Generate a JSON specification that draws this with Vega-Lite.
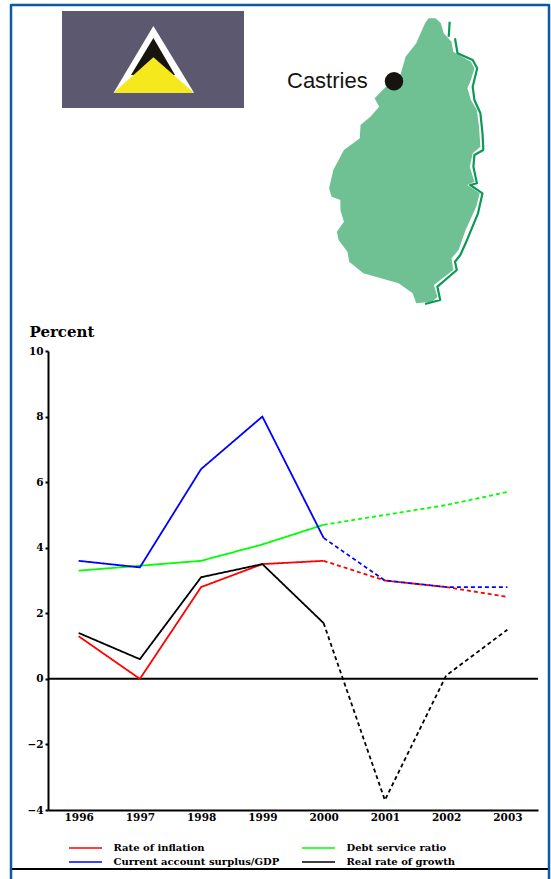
{
"$schema":"https://vega.github.io/schema/vega-lite/v6.json",
"width":490,"height":459,
"autosize":{"type":"none"},
"padding":{"left":48,"top":351,"right":13,"bottom":69},
"background":"white",
"config":{"view":{"stroke":null},"font":"DejaVu Serif"},
"datasets":{
"series":[
{"year":"1996","value":1.3,"series":"Rate of inflation","phase":"actual"},
{"year":"1997","value":0.0,"series":"Rate of inflation","phase":"actual"},
{"year":"1998","value":2.8,"series":"Rate of inflation","phase":"actual"},
{"year":"1999","value":3.5,"series":"Rate of inflation","phase":"actual"},
{"year":"2000","value":3.6,"series":"Rate of inflation","phase":"actual"},
{"year":"2000","value":3.6,"series":"Rate of inflation","phase":"projected"},
{"year":"2001","value":3.0,"series":"Rate of inflation","phase":"projected"},
{"year":"2002","value":2.8,"series":"Rate of inflation","phase":"projected"},
{"year":"2003","value":2.5,"series":"Rate of inflation","phase":"projected"},
{"year":"1996","value":3.3,"series":"Debt service ratio","phase":"actual"},
{"year":"1997","value":3.45,"series":"Debt service ratio","phase":"actual"},
{"year":"1998","value":3.6,"series":"Debt service ratio","phase":"actual"},
{"year":"1999","value":4.1,"series":"Debt service ratio","phase":"actual"},
{"year":"2000","value":4.7,"series":"Debt service ratio","phase":"actual"},
{"year":"2000","value":4.7,"series":"Debt service ratio","phase":"projected"},
{"year":"2001","value":5.0,"series":"Debt service ratio","phase":"projected"},
{"year":"2002","value":5.3,"series":"Debt service ratio","phase":"projected"},
{"year":"2003","value":5.7,"series":"Debt service ratio","phase":"projected"},
{"year":"1996","value":3.6,"series":"Current account surplus/GDP","phase":"actual"},
{"year":"1997","value":3.4,"series":"Current account surplus/GDP","phase":"actual"},
{"year":"1998","value":6.4,"series":"Current account surplus/GDP","phase":"actual"},
{"year":"1999","value":8.0,"series":"Current account surplus/GDP","phase":"actual"},
{"year":"2000","value":4.3,"series":"Current account surplus/GDP","phase":"actual"},
{"year":"2000","value":4.3,"series":"Current account surplus/GDP","phase":"projected"},
{"year":"2001","value":3.0,"series":"Current account surplus/GDP","phase":"projected"},
{"year":"2002","value":2.8,"series":"Current account surplus/GDP","phase":"projected"},
{"year":"2003","value":2.8,"series":"Current account surplus/GDP","phase":"projected"},
{"year":"1996","value":1.4,"series":"Real rate of growth","phase":"actual"},
{"year":"1997","value":0.6,"series":"Real rate of growth","phase":"actual"},
{"year":"1998","value":3.1,"series":"Real rate of growth","phase":"actual"},
{"year":"1999","value":3.5,"series":"Real rate of growth","phase":"actual"},
{"year":"2000","value":1.7,"series":"Real rate of growth","phase":"actual"},
{"year":"2000","value":1.7,"series":"Real rate of growth","phase":"projected"},
{"year":"2001","value":-3.7,"series":"Real rate of growth","phase":"projected"},
{"year":"2002","value":0.1,"series":"Real rate of growth","phase":"projected"},
{"year":"2003","value":1.5,"series":"Real rate of growth","phase":"projected"}
],
"shapes":[
{"type":"Feature","properties":{"fill":"#5b5870"},"geometry":{"type":"Polygon","coordinates":[[[62,11],[244,11],[244,108],[62,108],[62,11]]]}},
{"type":"Feature","properties":{"fill":"#ffffff"},"geometry":{"type":"Polygon","coordinates":[[[153.4,26],[194,92.7],[113.6,92.7],[153.4,26]]]}},
{"type":"Feature","properties":{"fill":"#17140f"},"geometry":{"type":"Polygon","coordinates":[[[153.4,38],[175,75],[131,75],[153.4,38]]]}},
{"type":"Feature","properties":{"fill":"#f5e81c"},"geometry":{"type":"Polygon","coordinates":[[[153.4,57.3],[194,92.7],[113.6,92.7],[153.4,57.3]]]}},
{"type":"Feature","properties":{"fill":"#6fc193"},"geometry":{"type":"Polygon","coordinates":[[[428.6,18.3],[435.6,18.3],[440.9,23.3],[443.7,33.3],[451.5,41.7],[453.3,51.7],[462.1,56.7],[470.9,61.7],[474.4,68.3],[470.9,80],[467.4,88.3],[470.9,100],[476.9,110],[479,126.7],[480.4,146.7],[472.7,153.3],[469.8,166.7],[474.4,181.7],[467.4,185],[479.7,193.3],[476.2,206.7],[465.6,230],[458.6,250],[451.5,258.3],[453.3,270],[433.9,285],[437.4,296.7],[432.1,301.7],[416.2,303.3],[412.7,293.3],[398.6,283.3],[381,278.3],[363.3,273.3],[349.2,261.7],[347.4,251.7],[338.6,240],[336.9,231.7],[343.9,221.7],[340.4,210],[340.4,200],[331.6,196.7],[329.1,188.3],[333.3,170],[343.9,150],[359.8,138.3],[360.5,125],[370.4,116.7],[379.2,106.7],[374.6,98.3],[384.5,88.3],[400.4,75],[405.6,56.7],[416.2,43.3],[425,23.3],[428.6,18.3]]]}}
],
"lines":[
{"type":"Feature","properties":{"stroke":"#0a9a55","w":2.2},"geometry":{"type":"LineString","coordinates":[[449.7,21.7],[448.7,36.7]]}},
{"type":"Feature","properties":{"stroke":"#0a9a55","w":2.2},"geometry":{"type":"LineString","coordinates":[[455,38.3],[457.5,53.3],[472.7,60],[477.2,68.3],[472.7,86.7],[474.4,100],[480.4,113.3],[482.5,133.3],[483.3,150],[474.4,155],[473.4,166.7],[476.9,183.3],[470.2,185],[482.5,193.3],[478,213.3],[465.6,243.3],[460.3,255],[455,261.7],[456.8,270],[437.4,286.7],[440.2,300],[425,304]]}},
{"type":"Feature","properties":{"stroke":"#0b5aa5","w":2.5},"geometry":{"type":"LineString","coordinates":[[11,879],[11,5],[549,5],[549,879]]}},
{"type":"Feature","properties":{"stroke":"#000000","w":2},"geometry":{"type":"LineString","coordinates":[[12,869],[548,869]]}}
]
},
"layer":[
{"data":{"name":"shapes"},"projection":{"type":"identity","scale":1,"translate":[-48,-351]},
 "mark":{"type":"geoshape","stroke":null,"clip":false},
 "encoding":{"fill":{"field":"properties.fill","type":"nominal","scale":null}}},
{"data":{"name":"lines"},"projection":{"type":"identity","scale":1,"translate":[-48,-351]},
 "mark":{"type":"geoshape","filled":false,"clip":false,"strokeJoin":"round"},
 "encoding":{"stroke":{"field":"properties.stroke","type":"nominal","scale":null},"strokeWidth":{"field":"properties.w","type":"quantitative","scale":null}}},
{"data":{"values":[{"lon":394,"lat":81.3}]},"projection":{"type":"identity","scale":1,"translate":[-48,-351]},
 "mark":{"type":"circle","size":340,"color":"#17140f","opacity":1,"clip":false},
 "encoding":{"longitude":{"field":"lon","type":"quantitative"},"latitude":{"field":"lat","type":"quantitative"}}},
{"data":{"values":[{"lon":287,"lat":88,"label":"Castries"}]},"projection":{"type":"identity","scale":1,"translate":[-48,-351]},
 "mark":{"type":"text","font":"Liberation Sans","fontSize":22,"align":"left","baseline":"alphabetic","color":"#17140f","clip":false},
 "encoding":{"longitude":{"field":"lon","type":"quantitative"},"latitude":{"field":"lat","type":"quantitative"},"text":{"field":"label","type":"nominal"}}},
{"data":{"values":[{"zero":0}]},"mark":{"type":"rule","color":"#000000","strokeWidth":2},
 "encoding":{"y":{"field":"zero","type":"quantitative","scale":{"domain":[-4,10],"nice":false}}}},
{"data":{"name":"series"},"mark":{"type":"line","strokeWidth":1.8},
 "encoding":{
  "x":{"field":"year","type":"ordinal","scale":{"type":"point","padding":0.5},
   "axis":{"title":null,"labelAngle":0,"ticks":false,"domainColor":"#000000","domainWidth":2,"labelColor":"#000000","labelFont":"DejaVu Serif","labelFontWeight":"bold","labelFontSize":10.5,"labelPadding":2,"grid":false}},
  "y":{"field":"value","type":"quantitative","scale":{"domain":[-4,10],"nice":false},
   "axis":{"title":"Percent","titleAngle":0,"titleX":-19,"titleY":-15,"titleAlign":"left","titleBaseline":"alphabetic","titleFont":"DejaVu Serif","titleFontWeight":"bold","titleFontSize":15,"titleColor":"#000000",
    "values":[-4,-2,0,2,4,6,8,10],"format":"d","domainColor":"#000000","domainWidth":2,"tickColor":"#000000","tickSize":3,"tickWidth":2,"labelColor":"#000000","labelFont":"DejaVu Serif","labelFontWeight":"bold","labelFontSize":10.5,"labelPadding":2,"grid":false}},
  "color":{"field":"series","type":"nominal",
   "scale":{"domain":["Rate of inflation","Current account surplus/GDP","Debt service ratio","Real rate of growth"],"range":["#ff0000","#0000ff","#00ff00","#000000"]},
   "legend":{"title":null,"orient":"none","legendX":31.5,"legendY":491,"columns":2,"columnPadding":19,"rowPadding":3,"padding":0,
    "symbolType":"M-3.3,0H3.3","symbolSize":100,"symbolStrokeWidth":1.5,"labelOffset":22,"labelLimit":300,"labelFont":"DejaVu Serif","labelFontWeight":"bold","labelFontSize":10,
    "encoding":{"labels":{"update":{"fill":{"scale":"color","field":"value"}}}}}},
  "strokeDash":{"field":"phase","type":"nominal","scale":{"domain":["actual","projected"],"range":[[1,0],[4,3]]},"legend":null},
  "detail":{"field":"series"}
 }}
]
}
